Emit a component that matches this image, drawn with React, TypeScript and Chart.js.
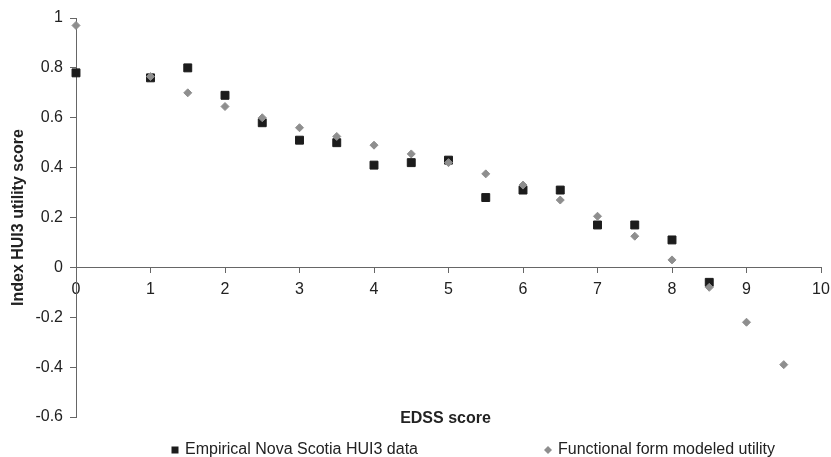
import React, { useEffect, useRef } from "react";
import { Chart, registerables } from "chart.js";

Chart.register(...registerables);

const empiricalEdss = [0, 1, 1.5, 2, 2.5, 3, 3.5, 4, 4.5, 5, 5.5, 6, 6.5, 7, 7.5, 8, 8.5];
const empiricalUtility = [0.78, 0.76, 0.8, 0.69, 0.58, 0.51, 0.5, 0.41, 0.42, 0.43, 0.28, 0.31, 0.31, 0.17, 0.17, 0.11, -0.06];

const modeledEdss = [0, 1, 1.5, 2, 2.5, 3, 3.5, 4, 4.5, 5, 5.5, 6, 6.5, 7, 7.5, 8, 8.5, 9, 9.5];
const modeledUtility = [0.97, 0.765, 0.7, 0.645, 0.6, 0.56, 0.525, 0.49, 0.455, 0.42, 0.375, 0.33, 0.27, 0.205, 0.125, 0.03, -0.08, -0.22, -0.39];

const seriesLabels = ["Empirical Nova Scotia HUI3 data", "Functional form modeled utility"];
const xTitle = "EDSS score";
const yTitle = "Index HUI3 utility score";

const FONT = "'Liberation Sans', Arial, sans-serif";
const SQUARE_COLOR = "#1c1c1c";
const DIAMOND_COLOR = "#8e8e8e";
const AXIS_COLOR = "#666666";
const TEXT_COLOR = "#222222";

const overlayPlugin = {
  id: "overlay",
  afterDraw(chart: any) {
    const { ctx, chartArea } = chart;
    ctx.save();
    // x axis title
    ctx.font = `bold 16px ${FONT}`;
    ctx.fillStyle = TEXT_COLOR;
    ctx.textAlign = "center";
    ctx.textBaseline = "middle";
    ctx.fillText(xTitle, (chartArea.left + chartArea.right) / 2 - 3, chartArea.bottom + 2);

    // legend
    const ly = chartArea.bottom + 33;
    ctx.font = `16px ${FONT}`;
    ctx.textAlign = "left";
    const x1 = chartArea.left + 99;
    ctx.fillStyle = SQUARE_COLOR;
    ctx.fillRect(x1 - 3.5, ly - 3.5, 7, 7);
    ctx.fillStyle = TEXT_COLOR;
    ctx.fillText(seriesLabels[0], x1 + 10, ly);

    const x2 = chartArea.left + 472;
    ctx.fillStyle = DIAMOND_COLOR;
    ctx.beginPath();
    ctx.moveTo(x2, ly - 4);
    ctx.lineTo(x2 + 4, ly);
    ctx.lineTo(x2, ly + 4);
    ctx.lineTo(x2 - 4, ly);
    ctx.closePath();
    ctx.fill();
    ctx.fillStyle = TEXT_COLOR;
    ctx.fillText(seriesLabels[1], x2 + 10, ly);
    ctx.restore();
  },
};

export default function App() {
  const ref = useRef<HTMLCanvasElement>(null);

  useEffect(() => {
    if (!ref.current) return;
    Chart.defaults.font.family = FONT;
    const chart = new Chart(ref.current, {
      type: "scatter",
      data: {
        datasets: [
          {
            label: seriesLabels[0],
            data: empiricalEdss.map((x, i) => ({ x, y: empiricalUtility[i] })),
            pointStyle: "rect",
            pointRadius: 5.6,
            pointBorderWidth: 1,
            backgroundColor: SQUARE_COLOR,
            borderColor: SQUARE_COLOR,
            order: 2,
            clip: false,
          },
          {
            label: seriesLabels[1],
            data: modeledEdss.map((x, i) => ({ x, y: modeledUtility[i] })),
            pointStyle: "rectRot",
            pointRadius: 4,
            pointBorderWidth: 1,
            backgroundColor: DIAMOND_COLOR,
            borderColor: DIAMOND_COLOR,
            order: 1,
            clip: false,
          },
        ],
      },
      options: {
        responsive: false,
        animation: false,
        layout: { padding: { left: 0, top: 18, right: 10, bottom: 40 } },
        plugins: {
          legend: { display: false },
          tooltip: { enabled: false },
        },
        scales: {
          x: {
            type: "linear",
            position: { y: 0 } as any,
            min: 0,
            max: 10,
            ticks: {
              stepSize: 1,
              font: { size: 16 },
              color: TEXT_COLOR,
              padding: 8,
            },
            grid: {
              display: true,
              drawOnChartArea: false,
              drawTicks: true,
              tickLength: 5,
              color: AXIS_COLOR,
            },
            border: { display: true, color: AXIS_COLOR, width: 1 },
            title: { display: false },
            afterFit(scale: any) {
              scale.paddingRight = 0;
              scale.paddingLeft = 0;
            },
          },
          y: {
            type: "linear",
            position: "left",
            min: -0.6,
            max: 1,
            ticks: {
              stepSize: 0.2,
              font: { size: 16 },
              color: TEXT_COLOR,
              padding: 7,
              callback: (v: any) => String(Number(Number(v).toFixed(1))),
            },
            grid: {
              display: true,
              drawOnChartArea: false,
              drawTicks: true,
              tickLength: 6,
              color: AXIS_COLOR,
            },
            border: { display: true, color: AXIS_COLOR, width: 1 },
            title: {
              display: true,
              text: yTitle,
              font: { size: 16, weight: "bold" },
              color: TEXT_COLOR,
              padding: { top: 9, bottom: 0 },
            },
            afterFit(scale: any) {
              scale.width = 76;
            },
          },
        },
      },
      plugins: [overlayPlugin],
    });
    return () => chart.destroy();
  }, []);

  return (
    <div style={{ position: "fixed", left: 0, top: 0, width: 831, height: 457, background: "#fff" }}>
      <canvas ref={ref} width={831} height={457} />
    </div>
  );
}
